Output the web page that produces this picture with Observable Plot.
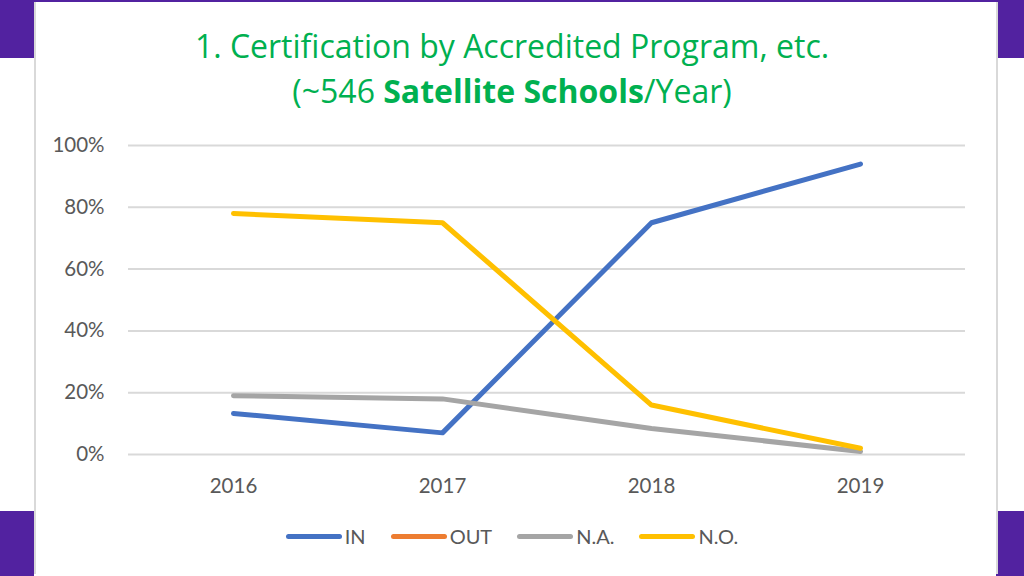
<!DOCTYPE html>
<html>
<head>
<meta charset="utf-8">
<script src="https://cdn.jsdelivr.net/npm/d3@7"></script>
<script src="https://cdn.jsdelivr.net/npm/@observablehq/plot@0.6"></script>
<style>
  html, body { margin: 0; padding: 0; background: #fff; }
  #stage { position: relative; width: 1024px; height: 576px; overflow: hidden; background: #fff; font-family: Lato, "Open Sans", sans-serif; }
  .purple { position: absolute; background: #5222a0; }
  #panel { position: absolute; left: 34px; top: 2px; width: 960px; height: 572px; background: #fff; border-left: 2px solid #d9d9d9; border-right: 2px solid #d9d9d9; }
  .title { position: absolute; left: 0; width: 1024px; text-align: center; color: #00b050; font-family: "Open Sans", sans-serif; font-size: 32px; line-height: 38px; white-space: nowrap; }
  #chart { position: absolute; left: 35px; top: 120px; }
  #legend { position: absolute; left: 0; width: 1024px; top: 524px; display: flex; justify-content: center; gap: 25px; font-size: 20px; color: #595959; }
  .item { display: flex; align-items: center; }
  .sw { width: 56px; height: 5px; border-radius: 3px; margin-right: 3px; }
</style>
</head>
<body>
<div id="stage">
  <div class="purple" style="left:0;top:0;width:1024px;height:2px"></div>
  <div class="purple" style="left:0;top:0;width:34px;height:58px"></div>
  <div class="purple" style="left:996px;top:0;width:28px;height:58px"></div>
  <div class="purple" style="left:0;top:511px;width:34px;height:65px"></div>
  <div class="purple" style="left:996px;top:511px;width:28px;height:65px"></div>
  <div id="panel"></div>
  <div class="title" style="top:27px">1. Certification by Accredited Program, etc.</div>
  <div class="title" style="top:72px">(~546 <b>Satellite Schools</b>/Year)</div>
  <div id="chart"></div>
  <div id="legend"></div>
</div>
<script>
const years = ["2016", "2017", "2018", "2019"];
const seriesNames = ["IN", "OUT", "N.A.", "N.O."];
const seriesColors = ["#4472c4", "#ed7d31", "#a5a5a5", "#ffc000"];
const inValues = [0.133, 0.07, 0.75, 0.94];
const outValues = [null, null, null, null];
const naValues = [0.19, 0.18, 0.084, 0.01];
const noValues = [0.78, 0.75, 0.16, 0.02];
const yTicks = [0, 0.2, 0.4, 0.6, 0.8, 1.0];

const valuesBySeries = [inValues, outValues, naValues, noValues];
const data = [];
seriesNames.forEach((s, i) => {
  years.forEach((y, j) => {
    const v = valuesBySeries[i][j];
    if (v != null) data.push({series: s, year: y, value: v});
  });
});

const chart = Plot.plot({
  width: 960,
  height: 390,
  marginLeft: 93,
  marginRight: 30,
  marginTop: 25,
  marginBottom: 56,
  style: {fontFamily: "Lato, 'Open Sans', sans-serif", fontSize: "20.5px", color: "#595959", background: "transparent"},
  x: {type: "point", domain: years, padding: 0.5, label: null, tickSize: 0, tickPadding: 24},
  y: {domain: [0, 1], ticks: yTicks, tickFormat: d => Math.round(d * 100) + "%", label: null, tickSize: 0, tickPadding: 24},
  color: {domain: seriesNames, range: seriesColors},
  marks: [
    Plot.gridY(yTicks, {stroke: "#d9d9d9", strokeOpacity: 1, strokeWidth: 2}),
    Plot.lineY(data, {x: "year", y: "value", z: "series", stroke: "series", strokeWidth: 5, strokeLinejoin: "round", strokeLinecap: "round"})
  ]
});
document.getElementById("chart").appendChild(chart);

const legend = document.getElementById("legend");
seriesNames.forEach((s, i) => {
  const item = document.createElement("div");
  item.className = "item";
  const sw = document.createElement("div");
  sw.className = "sw";
  sw.style.background = seriesColors[i];
  const t = document.createElement("span");
  t.textContent = s;
  item.appendChild(sw);
  item.appendChild(t);
  legend.appendChild(item);
});
</script>
</body>
</html>
